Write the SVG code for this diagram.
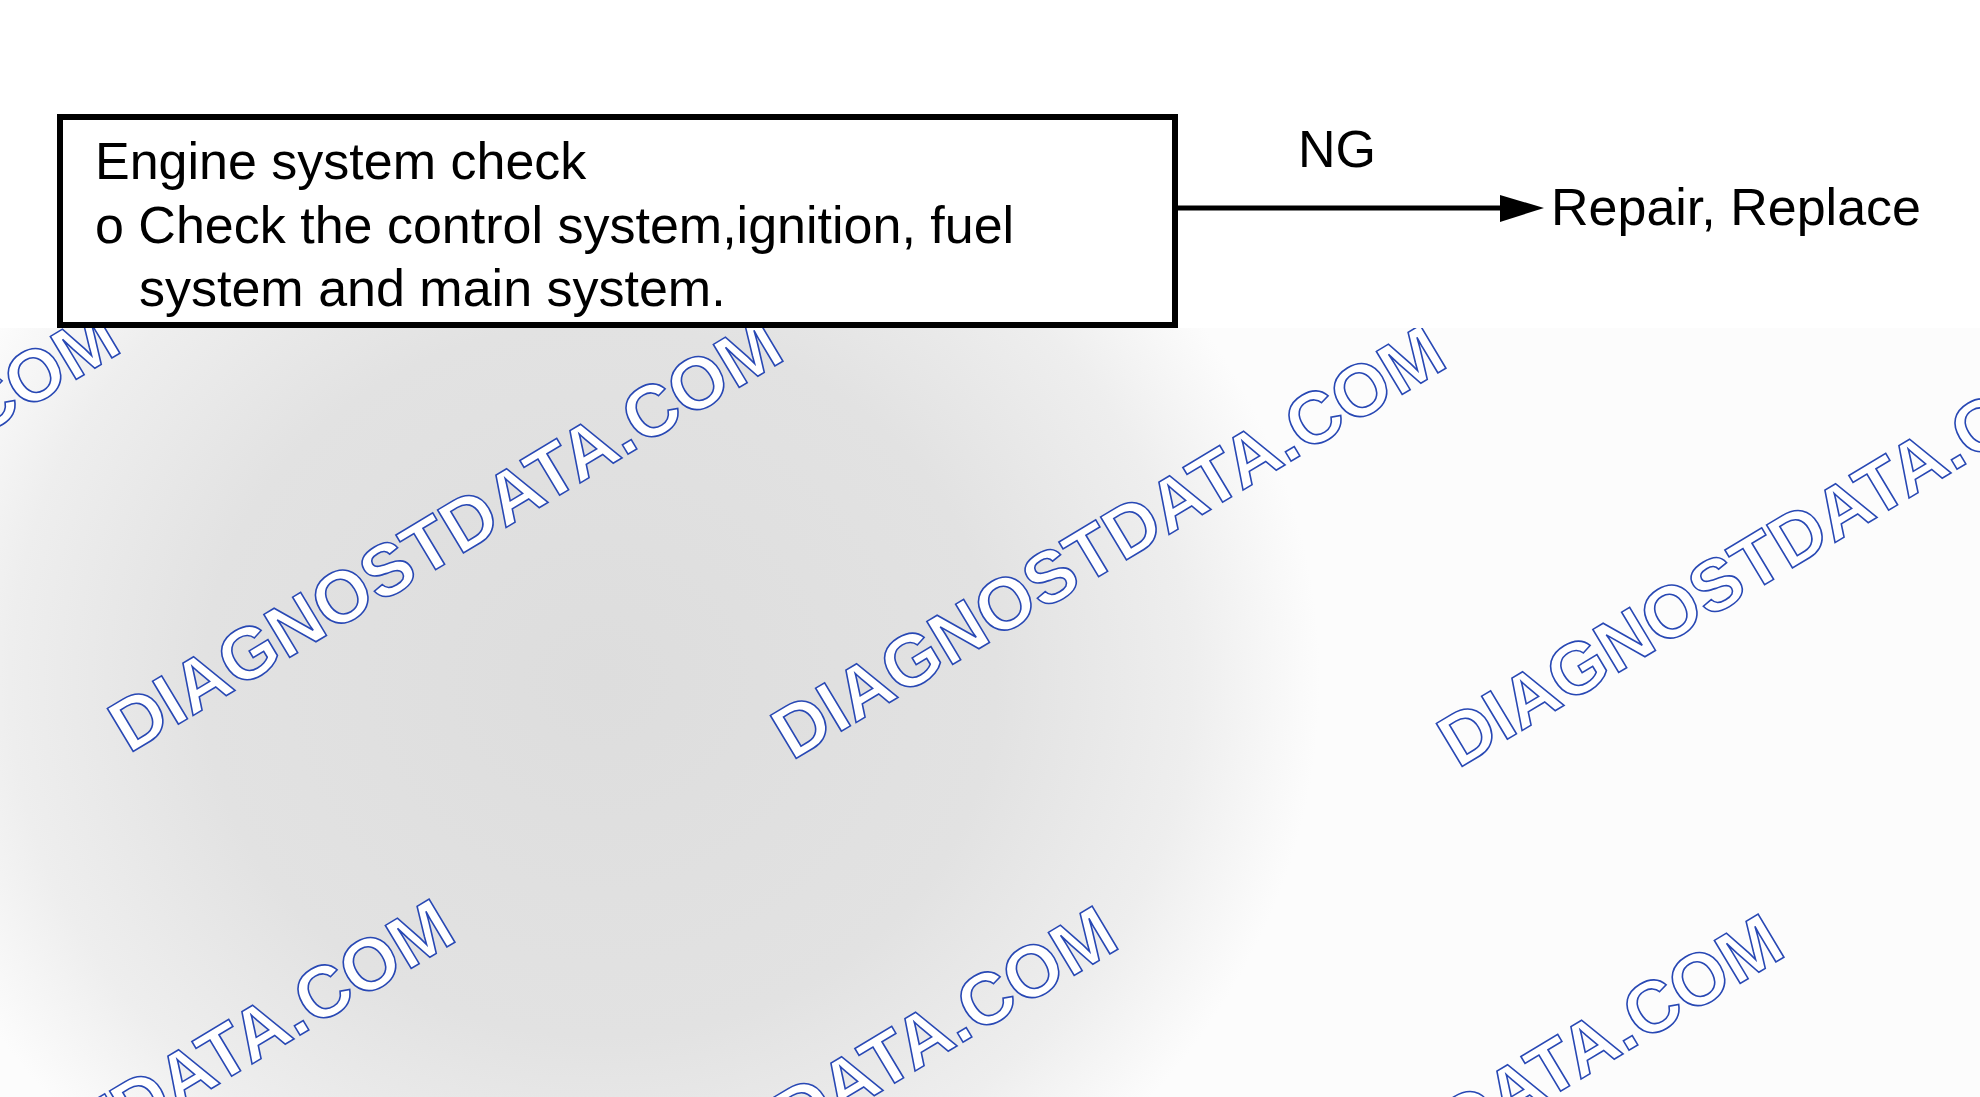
<svg xmlns="http://www.w3.org/2000/svg" width="1980" height="1097" viewBox="0 0 1980 1097">
<style>
.t{font-family:"Liberation Sans",Arial,sans-serif;font-size:52px;fill:#000}
.wm{font-family:"Liberation Sans",Arial,sans-serif;font-weight:bold;font-size:73px;fill:#fff;stroke:#2848b4;stroke-width:1.6}
.box{fill:#fff;stroke:#000;stroke-width:6}
.conn{stroke:#000;stroke-width:5;fill:none}
</style>
<defs>
<radialGradient id="bg" cx="600" cy="680" r="720" gradientUnits="userSpaceOnUse" gradientTransform="translate(600 680) scale(1 0.9) translate(-600 -680)">
<stop offset="0" stop-color="#dddddd"/>
<stop offset="0.55" stop-color="#e2e2e2"/>
<stop offset="0.82" stop-color="#eeeeee"/>
<stop offset="1" stop-color="#fcfcfc"/>
</radialGradient>
</defs>
<rect x="0" y="0" width="1980" height="1097" fill="#fff"/>
<rect x="0" y="328" width="1980" height="769" fill="url(#bg)"/>
<g id="watermarks">
<text class="wm" transform="translate(-534 746) rotate(-31)">DIAGNOSTDATA.COM</text>
<text class="wm" transform="translate(129 754) rotate(-31)">DIAGNOSTDATA.COM</text>
<text class="wm" transform="translate(792 761) rotate(-31)">DIAGNOSTDATA.COM</text>
<text class="wm" transform="translate(1458 769) rotate(-31)">DIAGNOSTDATA.COM</text>
<text class="wm" transform="translate(-199 1335) rotate(-31)">DIAGNOSTDATA.COM</text>
<text class="wm" transform="translate(464 1342) rotate(-31)">DIAGNOSTDATA.COM</text>
<text class="wm" transform="translate(1130 1350) rotate(-31)">DIAGNOSTDATA.COM</text>
</g>
<rect x="0" y="0" width="1980" height="328" fill="#fff"/>
<g id="connectors">
<line class="conn" x1="1178" y1="208" x2="1502" y2="208"/>
<polygon points="1500,195 1544,208 1500,222" fill="#000"/>
<text class="t" x="1298" y="167">NG</text>
</g>
<g id="node-engine-check">
<rect class="box" x="60" y="117" width="1115" height="208"/>
<text class="t" x="95" y="179">Engine system check</text>
<text class="t" x="95" y="243">o Check the control system,ignition, fuel</text>
<text class="t" x="139" y="306">system and main system.</text>
</g>
<g id="node-repair">
<text class="t" x="1551" y="225">Repair, Replace</text>
</g>
</svg>
